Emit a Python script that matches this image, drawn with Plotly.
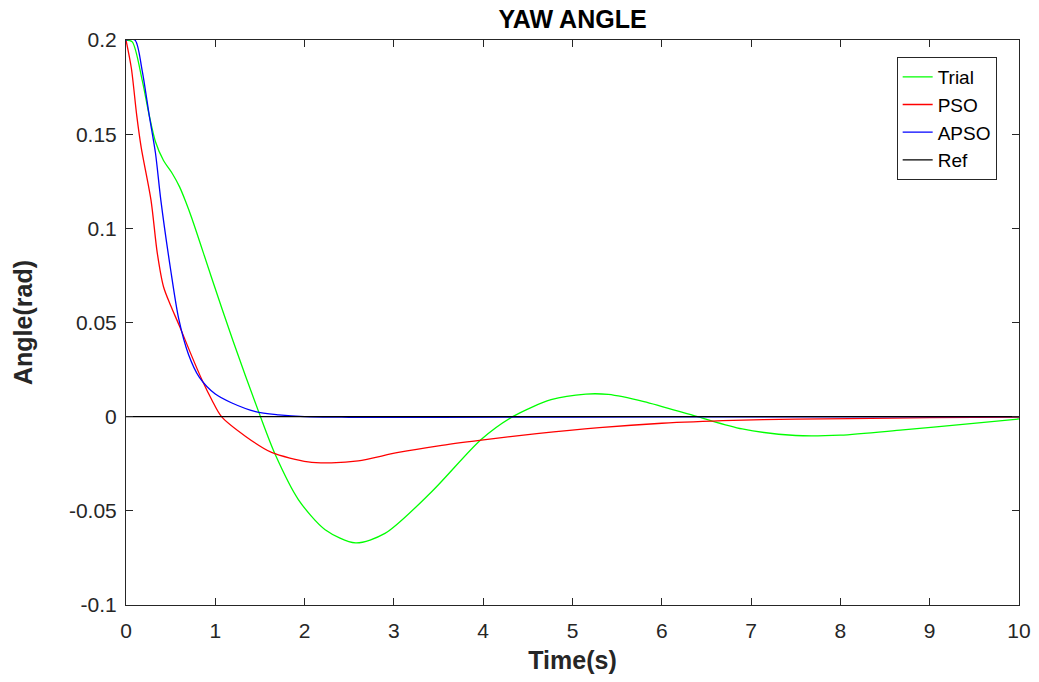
import plotly.graph_objects as go

# ---- data ----
trial_t = [0, 0.07, 0.18, 0.26, 0.33, 0.42, 0.52, 0.6, 0.67, 0.74, 0.95, 1.2, 1.49, 1.67,
           1.93, 2.23, 2.57, 2.9, 3.42, 3.98, 4.33, 4.76, 5.15, 5.4, 5.8, 6.4, 6.9, 7.5,
           8.0, 8.7, 9.4, 10]
trial_v = [0.2, 0.199, 0.179, 0.16, 0.146, 0.136, 0.129, 0.122, 0.114, 0.105, 0.075, 0.040,
           0.002, -0.02, -0.044, -0.06, -0.067, -0.062, -0.04, -0.012, 0.0, 0.009, 0.012,
           0.0118, 0.008, 0.0, -0.0065, -0.0100, -0.0098, -0.0070, -0.004, -0.0012]

pso_t = [0, 0.06, 0.12, 0.17, 0.28, 0.35, 0.42, 0.5, 0.6, 0.72, 0.85, 0.96, 1.07, 1.34,
         1.63, 2.04, 2.3, 2.6, 3.05, 3.5, 3.98, 4.6, 5.3, 6.0, 6.8, 7.5, 8.1, 9.0, 10]
pso_v = [0.2, 0.185, 0.16, 0.143, 0.115, 0.087, 0.069, 0.059, 0.048, 0.034, 0.0196, 0.009,
         0.0, -0.0105, -0.019, -0.024, -0.0245, -0.0235, -0.019, -0.0155, -0.0125, -0.009,
         -0.0058, -0.0035, -0.002, -0.0013, -0.001, -0.0005, -0.0002]

apso_t = [0, 0.1, 0.18, 0.26, 0.33, 0.39, 0.5, 0.59, 0.7, 0.82, 1.0, 1.18,
          1.45, 1.71, 2.0, 2.5, 3.5, 5.0, 7.0, 10]
apso_v = [0.2, 0.2, 0.184, 0.16, 0.14, 0.115, 0.078, 0.052, 0.033, 0.021,
          0.012, 0.0074, 0.0027, 0.001, 0.0, -0.0003, -0.0003, -0.0002, -0.0001, 0.0]

ref_t = [0, 10]
ref_v = [0, 0]

y_tickvals = [-0.1, -0.05, 0, 0.05, 0.1, 0.15, 0.2]
y_ticktext = ["-0.1", "-0.05", "0", "0.05", "0.1", "0.15", "0.2"]
x_tickvals = list(range(0, 11))

FONT = "Liberation Sans, Arial, Helvetica, sans-serif"
AX = "#262626"

fig = go.Figure()
fig.add_trace(go.Scatter(x=trial_t, y=trial_v, name="Trial", mode="lines",
                         line=dict(color="#00ff00", width=1.3, shape="spline", smoothing=0.8)))
fig.add_trace(go.Scatter(x=pso_t, y=pso_v, name="PSO", mode="lines",
                         line=dict(color="#ff0000", width=1.3, shape="spline", smoothing=0.8)))
fig.add_trace(go.Scatter(x=apso_t, y=apso_v, name="APSO", mode="lines",
                         line=dict(color="#0000ff", width=1.3, shape="spline", smoothing=0.8)))
fig.add_trace(go.Scatter(x=ref_t, y=ref_v, name="Ref", mode="lines",
                         line=dict(color="#000000", width=1.2)))

fig.update_layout(
    width=1039, height=682,
    margin=dict(l=126, r=20, t=40, b=77),
    paper_bgcolor="white", plot_bgcolor="white",
    font=dict(family=FONT, color=AX, size=21),
    title=dict(text="<b>YAW ANGLE</b>", x=(126 + 1019) / 2 / 1039, xanchor="center",
               y=1 - 19 / 682, yanchor="middle", font=dict(size=25, color="#000000")),
    showlegend=True,
    legend=dict(x=0.975, xanchor="right", y=0.97, yanchor="top",
                bgcolor="white", bordercolor=AX, borderwidth=1,
                font=dict(size=19, color="#000000"), tracegroupgap=0),
    xaxis=dict(range=[0, 10], tickvals=x_tickvals, ticks="inside", ticklen=7,
               tickcolor=AX, showline=True, linecolor=AX, linewidth=1, mirror="ticks",
               showgrid=False, zeroline=False, ticklabelstandoff=7, automargin=False,
               tickfont=dict(size=21, color=AX),
               title=dict(text="<b>Time(s)</b>", font=dict(size=25, color=AX), standoff=10)),
    yaxis=dict(range=[-0.1, 0.2], tickvals=y_tickvals, ticktext=y_ticktext,
               ticks="inside", ticklen=7, tickcolor=AX, showline=True, linecolor=AX,
               linewidth=1, mirror="ticks", showgrid=False, zeroline=False,
               ticklabelstandoff=4, automargin=False,
               tickfont=dict(size=21, color=AX),
               title=dict(text="<b>Angle(rad)</b>", font=dict(size=25, color=AX), standoff=29)),
)

fig.write_html("out.html")
